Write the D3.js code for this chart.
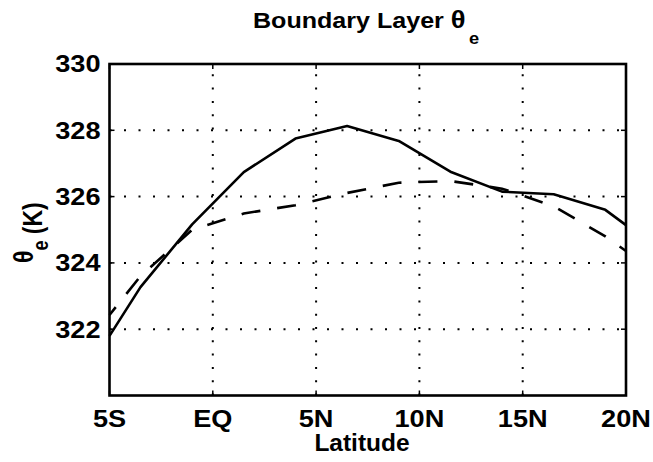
<!DOCTYPE html>
<html>
<head>
<meta charset="utf-8">
<script src="https://cdn.jsdelivr.net/npm/d3@7"></script>
<style>
  html, body { margin: 0; padding: 0; background: #fff; }
  text { font-family: "Liberation Sans", Arial, Helvetica, sans-serif; fill: #000; }
</style>
</head>
<body>
<svg id="chart" width="653" height="462"></svg>
<script>
// Data (latitude in degrees, negative = south)
const latitudes = [-5, -3.5, -1, 1.5, 4, 6.5, 9, 11.5, 14, 16.5, 19, 20];
const solidTheta = [321.8, 323.27, 325.16, 326.74, 327.75, 328.13, 327.68, 326.75, 326.15, 326.07, 325.6, 325.14];
const dashedTheta = [322.43, 323.6, 325.0, 325.49, 325.74, 326.11, 326.42, 326.47, 326.24, 325.71, 324.8, 324.36];
const xTickValues = [-5, 0, 5, 10, 15, 20];
const xTickLabels = ["5S", "EQ", "5N", "10N", "15N", "20N"];
const yTickValues = [322, 324, 326, 328, 330];
const yGridValues = [322, 324, 326, 328];
const xGridValues = [0, 5, 10, 15];

const svg = d3.select("#chart");
const L = 109.5, R = 626, T = 64, B = 395.5;
const x = d3.scaleLinear().domain([-5, 20]).range([L, R]);
const y = d3.scaleLinear().domain([320, 330]).range([B, T]);
const SX = 1.18;

// grid
const grid = svg.append("g");
grid.selectAll("line.gx").data(xGridValues).join("line")
  .attr("x1", d => x(d)).attr("x2", d => x(d))
  .attr("y1", B).attr("y2", T)
  .attr("stroke", "#000").attr("stroke-width", 2)
  .attr("stroke-dasharray", "2,11.3").attr("stroke-linecap", "butt");
grid.selectAll("line.gy").data(yGridValues).join("line")
  .attr("x1", L).attr("x2", R)
  .attr("y1", d => y(d)).attr("y2", d => y(d))
  .attr("stroke", "#000").attr("stroke-width", 2)
  .attr("stroke-dasharray", "2,12.5");

// inner ticks
const ticks = svg.append("g").attr("stroke", "#000").attr("stroke-width", 1.5);
xTickValues.forEach(v => {
  ticks.append("line").attr("x1", x(v)).attr("x2", x(v)).attr("y1", B).attr("y2", B - 5);
  ticks.append("line").attr("x1", x(v)).attr("x2", x(v)).attr("y1", T).attr("y2", T + 5);
});
yTickValues.forEach(v => {
  ticks.append("line").attr("x1", L).attr("x2", L + 5).attr("y1", y(v)).attr("y2", y(v));
  ticks.append("line").attr("x1", R).attr("x2", R - 5).attr("y1", y(v)).attr("y2", y(v));
});

// lines
const line = d3.line().x((d, i) => x(latitudes[i])).y(d => y(d));
svg.append("path").datum(dashedTheta).attr("d", line)
  .attr("fill", "none").attr("stroke", "#000").attr("stroke-width", 2.6)
  .attr("stroke-dasharray", "19,17").attr("stroke-dashoffset", 9);
svg.append("path").datum(solidTheta).attr("d", line)
  .attr("fill", "none").attr("stroke", "#000").attr("stroke-width", 2.6)
  .attr("stroke-linejoin", "round");

// box
svg.append("rect").attr("x", L).attr("y", T).attr("width", R - L).attr("height", B - T)
  .attr("fill", "none").attr("stroke", "#000").attr("stroke-width", 2.6);

// tick labels
xTickValues.forEach((v, i) => {
  svg.append("text")
    .attr("transform", `translate(${x(v)},427) scale(${SX},1)`)
    .attr("text-anchor", "middle").attr("font-size", 23).attr("font-weight", "bold")
    .text(xTickLabels[i]);
});
yTickValues.forEach(v => {
  svg.append("text")
    .attr("transform", `translate(100.5,${y(v) + 8.3}) scale(${SX},1)`)
    .attr("text-anchor", "end").attr("font-size", 23).attr("font-weight", "bold")
    .text(v);
});

// title
const title = svg.append("text")
  .attr("transform", `translate(253,28) scale(1.14,1)`)
  .attr("font-size", 22).attr("font-weight", "bold");
title.append("tspan").text("Boundary Layer ");
title.append("tspan").attr("font-size", 24).text("θ");
title.append("tspan").attr("dy", 16).attr("dx", 3).attr("font-size", 16).text("e");

// x label
svg.append("text")
  .attr("transform", `translate(362,451) scale(1.02,1)`)
  .attr("text-anchor", "middle").attr("font-size", 24).attr("font-weight", "bold")
  .text("Latitude");

// y label
const yl = svg.append("text")
  .attr("transform", `translate(42,263) scale(1.18,1) rotate(-90)`)
  .attr("font-size", 23).attr("font-weight", "bold");
yl.append("tspan").attr("dy", -8).text("θ");
yl.append("tspan").attr("dy", 13).attr("font-size", 18).text("e");
yl.append("tspan").attr("dy", -5).text(" (K)");
</script>
</body>
</html>
